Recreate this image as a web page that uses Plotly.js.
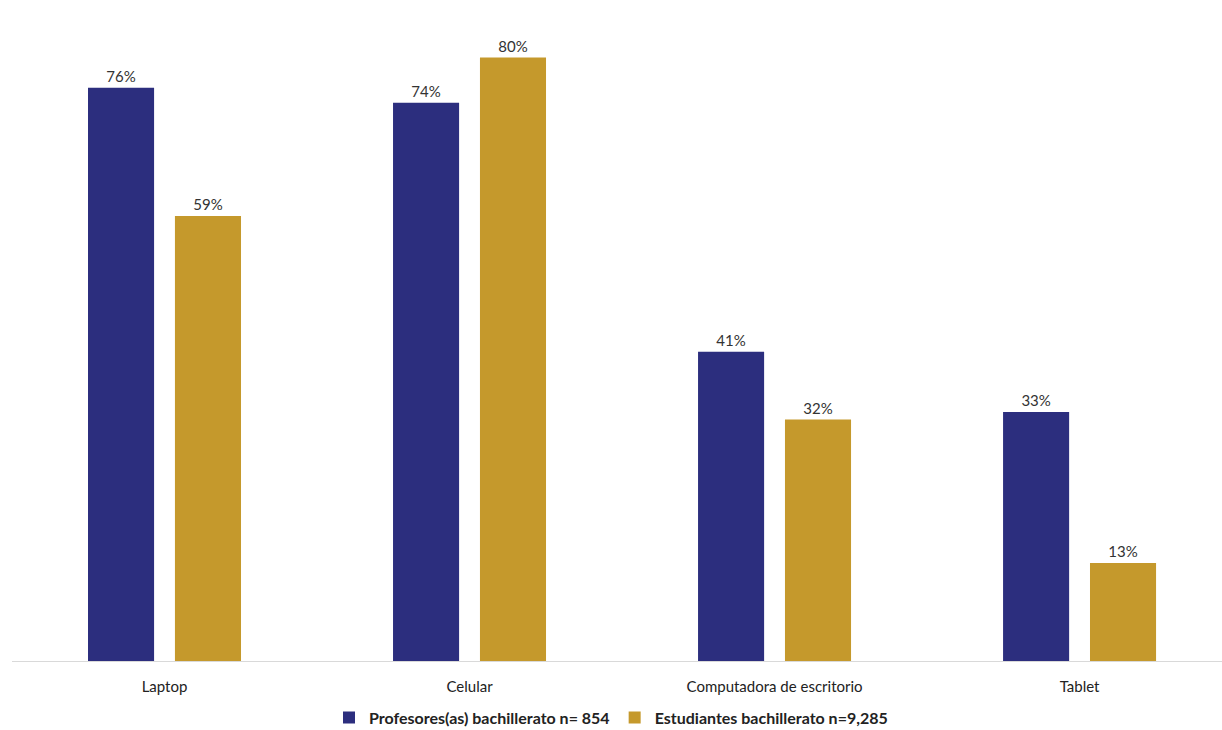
<!DOCTYPE html>
<html>
<head>
<meta charset="utf-8">
<script src="https://cdn.plot.ly/plotly-3.0.1.min.js"></script>
<style>html,body{margin:0;padding:0;background:#fff;}#chart{width:1222px;height:730px;}</style>
</head>
<body>
<div id="chart"></div>
<script>
const categories = ["Laptop", "Celular", "Computadora de escritorio", "Tablet"];
const profesores = [76, 74, 41, 33];
const estudiantes = [59, 80, 32, 13];
const seriesNames = ["Profesores(as) bachillerato n= 854", "Estudiantes bachillerato n=9,285"];

const fontFam = "Lato, 'Open Sans', sans-serif";
const traces = [
  {type: "bar", name: "<b>" + seriesNames[0] + "</b>", x: categories, y: profesores,
   marker: {color: "#2c2e7e"}, text: profesores.map(v => v + "%"), textposition: "outside",
   textfont: {family: fontFam, size: 15, color: "#333"}, cliponaxis: false, hoverinfo: "x+y"},
  {type: "bar", name: "<b>" + seriesNames[1] + "</b>", x: categories, y: estudiantes,
   marker: {color: "#c5992c"}, text: estudiantes.map(v => v + "%"), textposition: "outside",
   textfont: {family: fontFam, size: 15, color: "#333"}, cliponaxis: false, hoverinfo: "x+y"}
];
const layout = {
  width: 1222, height: 730,
  margin: {l: 12, r: 0, t: 10, b: 69, autoexpand: false},
  paper_bgcolor: "#fff", plot_bgcolor: "#fff",
  barmode: "group", bargap: 0.43, bargroupgap: 0.24,
  font: {family: fontFam, size: 15, color: "#222"},
  xaxis: {range: [-0.5, 3.467], showgrid: false, showline: true, linecolor: "#d9d9d9", linewidth: 1,
          ticks: "", ticklabelstandoff: 12, tickfont: {family: fontFam, size: 15, color: "#222"}, fixedrange: true, automargin: false},
  yaxis: {range: [0, 86.3], visible: false, showgrid: false, zeroline: false, fixedrange: true},
  showlegend: true,
  legend: {orientation: "h", x: 0.5, xanchor: "center", xref: "container", yref: "container", y: 0.017, yanchor: "middle",
           font: {family: fontFam, size: 16, color: "#222"}, itemwidth: 30, traceorder: "normal"}
};
Plotly.newPlot("chart", traces, layout, {displayModeBar: false, staticPlot: true});
</script>
</body>
</html>
